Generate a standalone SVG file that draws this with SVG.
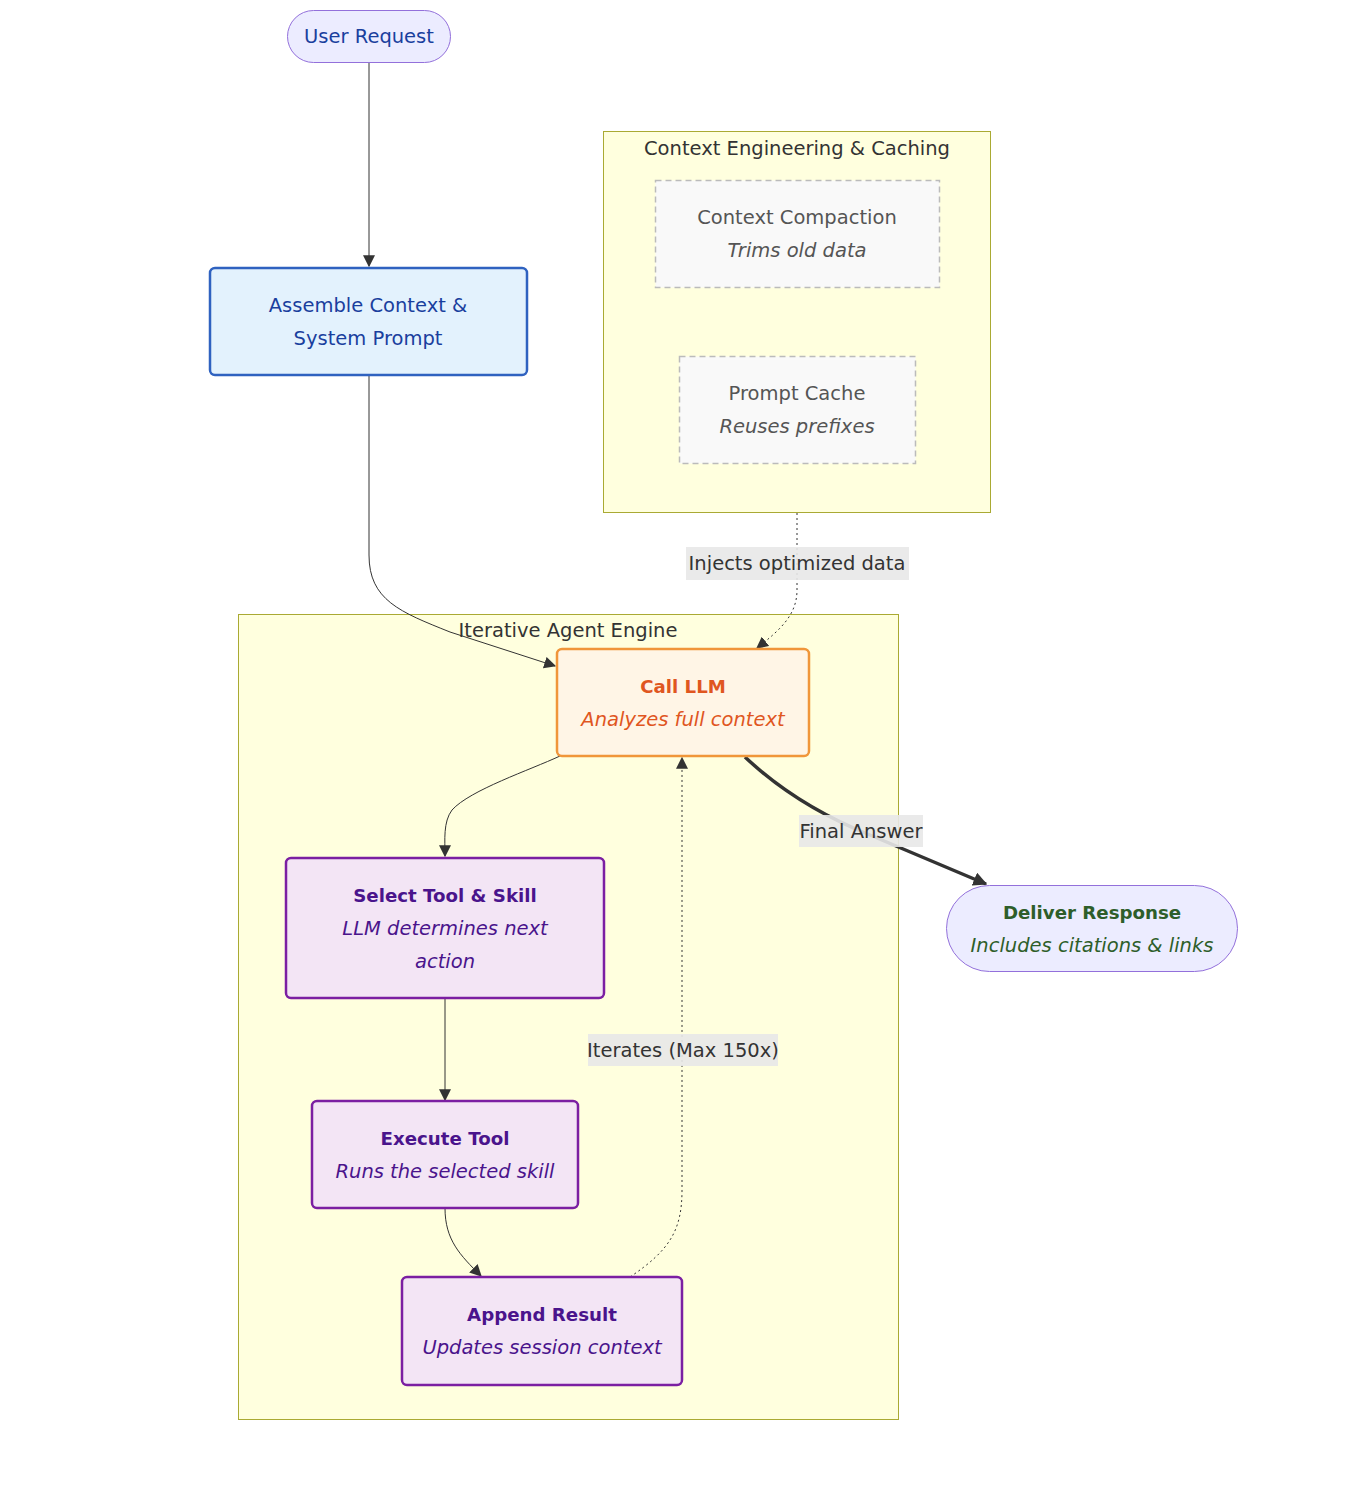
<svg xmlns="http://www.w3.org/2000/svg" width="1348" height="1504" viewBox="0 0 1348 1504">
<style>
text{font-family:"DejaVu Sans","Liberation Sans",sans-serif;font-size:19.5px;text-anchor:middle;dominant-baseline:central}
.cluster{fill:#ffffde;stroke:#aaaa33;stroke-width:1}
.ctitle{fill:#333}
.cache{fill:#f9f9f9;stroke:#bbbbbb;stroke-width:1.5;stroke-dasharray:6 4}
.cachet{fill:#555}
.blue{fill:#e3f2fd;stroke:#2f62c0;stroke-width:2.5}
.bluet{fill:#1a3f9e}
.llm{fill:#fff5e6;stroke:#f0963a;stroke-width:2.5}
.llmt{fill:#e0561f}
.purple{fill:#f3e5f5;stroke:#7b1fa2;stroke-width:2.5}
.purplet{fill:#4a148c}
.term{fill:#ececff;stroke:#9370db;stroke-width:1}
.green{fill:#2e5e2a}
.b{font-weight:bold;font-size:18.2px}
.i{font-style:italic}
.edge{fill:none;stroke:#333;stroke-width:1}
.dot{stroke-dasharray:2 3}
.thick{stroke-width:3.5}
.lblbg{fill:#e8e8e8;opacity:0.9}
.lbl{fill:#333}
</style>
<defs>
<marker id="arr" viewBox="0 0 10 10" refX="9" refY="5" markerUnits="userSpaceOnUse" markerWidth="12" markerHeight="12" orient="auto">
<path d="M0,0 L10,5 L0,10 z" fill="#333"/>
</marker>
<marker id="arrT" viewBox="0 0 10 10" refX="9" refY="5" markerUnits="userSpaceOnUse" markerWidth="14" markerHeight="14" orient="auto">
<path d="M0,0 L10,5 L0,10 z" fill="#333"/>
</marker>
</defs>

<g id="cluster-context">
<rect class="cluster" x="603.5" y="131.5" width="387" height="381"/>
<text class="ctitle" x="797" y="148">Context Engineering &amp; Caching</text>
</g>
<g id="cluster-engine">
<rect class="cluster" x="238.5" y="614.5" width="660" height="805"/>
<text class="ctitle" x="568" y="630">Iterative Agent Engine</text>
</g>

<g id="edges">
<path class="edge" d="M369,62 L369,266" marker-end="url(#arr)"/>
<path class="edge" d="M369,375 L369,555 C369,600 400,612 450,632 L555,666" marker-end="url(#arr)"/>
<path class="edge dot" d="M797,513 L797,590 C797,615 780,630 757,648" marker-end="url(#arr)"/>
<path class="edge" d="M560,756 C530,770 470,790 452,810 C443,822 445,840 445,856" marker-end="url(#arr)"/>
<path class="edge" d="M445,998 L445,1100" marker-end="url(#arr)"/>
<path class="edge" d="M445,1208 C445,1240 460,1255 481,1276" marker-end="url(#arr)"/>
<path class="edge dot" d="M630,1277 C670,1250 682,1230 682,1190 L682,758" marker-end="url(#arr)"/>
<path class="edge thick" d="M745,757 C780,790 820,815 870,835 L986,884" marker-end="url(#arrT)"/>
<g id="edge-labels">
<rect class="lblbg" x="686" y="547" width="223" height="33"/>
<text class="lbl" x="797" y="563">Injects optimized data</text>
<rect class="lblbg" x="799" y="815" width="124" height="32"/>
<text class="lbl" x="861" y="831">Final Answer</text>
<rect class="lblbg" x="588" y="1034" width="190" height="32"/>
<text class="lbl" x="683" y="1050">Iterates (Max 150x)</text>
</g>
</g>

<g id="user-request">
<rect class="term" x="287.5" y="10.5" width="163" height="52" rx="26"/>
<text class="bluet" x="369" y="36">User Request</text>
</g>
<g id="assemble">
<rect class="blue" x="210" y="268" width="317" height="107" rx="5"/>
<text class="bluet" x="368" y="305">Assemble Context &amp;</text>
<text class="bluet" x="368" y="338">System Prompt</text>
</g>
<g id="compaction">
<rect class="cache" x="655.5" y="180.5" width="284" height="107"/>
<text class="cachet" x="797" y="217">Context Compaction</text>
<text class="cachet i" x="797" y="250">Trims old data</text>
</g>
<g id="prompt-cache">
<rect class="cache" x="679.5" y="356.5" width="236" height="107"/>
<text class="cachet" x="797" y="393">Prompt Cache</text>
<text class="cachet i" x="797" y="426">Reuses prefixes</text>
</g>
<g id="call-llm">
<rect class="llm" x="557" y="649" width="252" height="107" rx="5"/>
<text class="llmt b" x="683" y="686">Call LLM</text>
<text class="llmt i" x="683" y="719">Analyzes full context</text>
</g>
<g id="select-tool">
<rect class="purple" x="286" y="858" width="318" height="140" rx="5"/>
<text class="purplet b" x="445" y="895">Select Tool &amp; Skill</text>
<text class="purplet i" x="445" y="928">LLM determines next</text>
<text class="purplet i" x="445" y="961">action</text>
</g>
<g id="execute-tool">
<rect class="purple" x="312" y="1101" width="266" height="107" rx="5"/>
<text class="purplet b" x="445" y="1138">Execute Tool</text>
<text class="purplet i" x="445" y="1171">Runs the selected skill</text>
</g>
<g id="append-result">
<rect class="purple" x="402" y="1277" width="280" height="108" rx="5"/>
<text class="purplet b" x="542" y="1314">Append Result</text>
<text class="purplet i" x="542" y="1347">Updates session context</text>
</g>
<g id="deliver">
<rect class="term" x="946.5" y="885.5" width="291" height="86" rx="43"/>
<text class="green b" x="1092" y="912">Deliver Response</text>
<text class="green i" x="1092" y="945">Includes citations &amp; links</text>
</g>
</svg>
